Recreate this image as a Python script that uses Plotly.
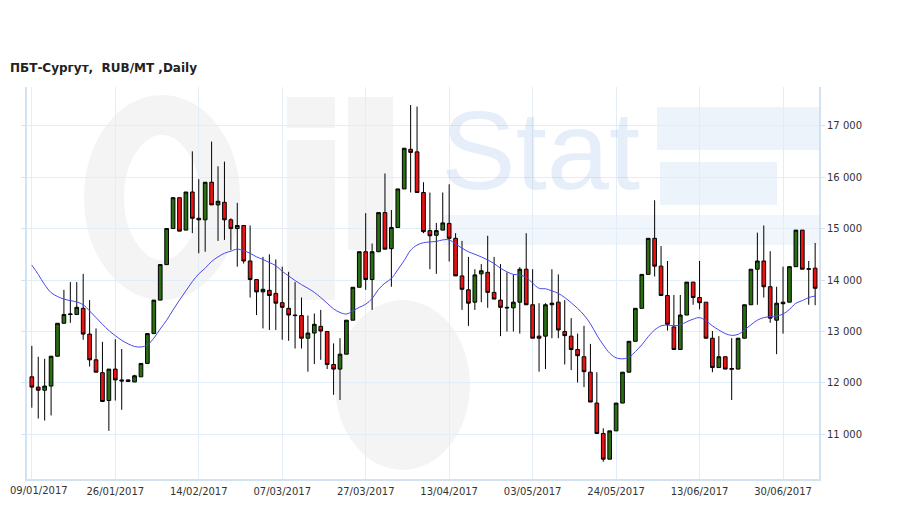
import pandas as pd
import plotly.graph_objects as go

# trading days 09/01/2017 .. 07/07/2017 (Russian holidays removed)
holidays = ["2017-02-23", "2017-02-24", "2017-03-08", "2017-05-01",
            "2017-05-08", "2017-05-09", "2017-06-12"]
days = pd.bdate_range("2017-01-09", "2017-07-07")
days = days[~days.isin(pd.to_datetime(holidays))]
dates = [d.strftime("%Y-%m-%d") for d in days]

opens = [12120, 11920, 11860, 11940, 12520, 13160, 13330, 13330, 13450, 12950,
         12450, 12200, 11660, 12270, 12060, 12060, 12020, 12120, 12380, 12960,
         13610, 14300, 15000, 15600, 14970, 15710, 15200, 15170, 15900, 15460,
         15510, 15170, 15000, 15060, 14370, 14010, 13770, 13800, 13740, 13560,
         13450, 13320, 13310, 12870, 12970, 13100, 13000, 12360, 12270, 12560,
         13220, 13860, 14550, 14010, 14550, 15310, 14610, 15020, 15770, 16540,
         16490, 15700, 14960, 14870, 14970, 15100, 14810, 14080, 13810, 13570,
         14120, 14150, 13760, 13610, 13470, 13460, 13570, 14210, 13520, 12910,
         12910, 13520, 13570, 13000, 12910, 12650, 12510, 12210, 11610, 11020,
         10520, 11070, 11610, 12210, 12810, 13450, 14110, 14810, 14270, 13700,
         13090, 12650, 13320, 13960, 13660, 13570, 12870, 12300, 12510, 12265,
         12270, 12870, 13520, 14210, 14370, 13870, 13220, 13570, 13570, 14260,
         14970, 14220, 14230]

highs = [12720, 12510, 12470, 12520, 13160, 13810, 13960, 13960, 14120, 13610,
         13060, 12800, 12270, 12850, 12660, 12070, 12160, 12380, 12960, 13610,
         14300, 15000, 15600, 15600, 15710, 16500, 15960, 15900, 16690, 16210,
         16300, 15200, 15500, 15060, 15060, 14010, 14450, 14500, 14400, 14260,
         14160, 13960, 13660, 13310, 13350, 13420, 13000, 12770, 12870, 13220,
         13860, 14550, 15300, 14710, 15310, 16070, 15360, 15770, 16560, 17400,
         17370, 15900, 15700, 15110, 15700, 15860, 14910, 14760, 14450, 14210,
         14310, 14860, 14450, 14310, 14150, 14110, 14250, 14910, 14210, 13550,
         13550, 14210, 14110, 13610, 13260, 12960, 13110, 12760, 12210, 11120,
         11070, 11610, 12210, 12810, 13450, 14110, 14810, 15550, 14660, 14370,
         13710, 13710, 13960, 13960, 14370, 13570, 13010, 12910, 12510, 12870,
         12870, 13520, 14210, 14920, 15060, 14560, 13870, 14260, 14260, 14970,
         14970, 14370, 14720]

lows = [11520, 11310, 11270, 11370, 12520, 13160, 13170, 13330, 12840, 12320,
        12210, 11640, 11070, 11660, 11480, 12020, 12020, 12120, 12380, 12960,
        13610, 14300, 15000, 14950, 14970, 14910, 14520, 14550, 15460, 14760,
        14780, 14580, 14260, 14320, 13660, 13320, 13060, 13030, 13030, 12840,
        12820, 12670, 12670, 12220, 12370, 12450, 12270, 11770, 11670, 12560,
        13220, 13860, 13810, 13420, 14550, 14600, 13870, 15020, 15770, 15700,
        15700, 14910, 14210, 14120, 14970, 14360, 14080, 13420, 13110, 13420,
        13570, 13460, 13630, 12910, 13000, 13000, 12960, 13520, 12870, 12220,
        12270, 12870, 12870, 12360, 12250, 12010, 11920, 11630, 11020, 10470,
        10520, 11070, 11610, 12210, 12810, 13450, 14110, 14070, 13700, 13020,
        12640, 12650, 13320, 13520, 13430, 12870, 12210, 12300, 12270, 11670,
        12270, 12870, 13520, 13520, 13660, 13170, 12560, 12960, 13570, 14260,
        14210, 13520, 13510]

closes = [11920, 11860, 11940, 12520, 13160, 13330, 13340, 13470, 12950, 12450,
          12210, 11640, 12270, 12060, 12040, 12030, 12140, 12380, 12960, 13610,
          14300, 15000, 15600, 14950, 15710, 15200, 15170, 15900, 15460, 15530,
          15170, 15000, 15060, 14370, 14010, 13770, 13820, 13700, 13550, 13470,
          13320, 13310, 12870, 12970, 13140, 13010, 12360, 12270, 12560, 13220,
          13860, 14550, 14010, 14550, 15310, 14600, 15020, 15770, 16560, 16480,
          15700, 14940, 14860, 14960, 15110, 14810, 14080, 13820, 13550, 14100,
          14180, 13760, 13630, 13470, 13460, 13570, 14210, 13520, 12870, 12870,
          13520, 13550, 13030, 12920, 12650, 12530, 12220, 11630, 11020, 10520,
          11070, 11610, 12210, 12810, 13450, 14110, 14810, 14270, 13700, 13140,
          12650, 13320, 13960, 13660, 13560, 12870, 12300, 12510, 12270, 12280,
          12870, 13520, 14210, 14370, 13870, 13260, 13550, 13540, 14260, 14970,
          14210, 14210, 13840]

moving_avg = [14290, 14110, 13910, 13755, 13680, 13630, 13600, 13575, 13520, 13400,
              13270, 13140, 13020, 12920, 12830, 12760, 12710, 12700, 12740, 12870,
              13050, 13220, 13420, 13610, 13790, 13970, 14120, 14230, 14360, 14450,
              14520, 14560, 14600, 14570, 14520, 14450, 14400, 14340, 14280, 14170,
              14080, 13990, 13910, 13840, 13760, 13660, 13550, 13440, 13370, 13340,
              13400, 13470, 13530, 13640, 13820, 13940, 14030, 14200, 14380, 14580,
              14680, 14725, 14740, 14750, 14780, 14780, 14700, 14620, 14550, 14500,
              14450, 14390, 14320, 14230, 14160, 14110, 14100, 14050, 13940, 13840,
              13830, 13790, 13740, 13660, 13560, 13450, 13320, 13150, 12930, 12740,
              12580, 12490, 12470, 12500, 12610, 12740, 12900, 13030, 13110, 13125,
              13110, 13130, 13190, 13240, 13270, 13210, 13110, 13030, 12960, 12925,
              12945, 13030, 13130, 13220, 13270, 13290, 13300, 13340, 13430, 13550,
              13600, 13660, 13690]

tick_dates = ["2017-01-09", "2017-01-26", "2017-02-14", "2017-03-07", "2017-03-27",
              "2017-04-13", "2017-05-03", "2017-05-24", "2017-06-13", "2017-06-30"]
tick_labels = ["09/01/2017", "26/01/2017", "14/02/2017", "07/03/2017", "27/03/2017",
               "13/04/2017", "03/05/2017", "24/05/2017", "13/06/2017", "30/06/2017"]
y_ticks = [11000, 12000, 13000, 14000, 15000, 16000, 17000]
y_labels = ["11 000", "12 000", "13 000", "14 000", "15 000", "16 000", "17 000"]

GREEN = "#2a6e12"
RED = "#ee1111"
GRID = "#e3edf7"
FRAME = "#d3e2f1"
GREY_WM = "rgba(0,0,0,0.045)"
BLUE_WM = "rgba(200,222,242,0.35)"

# the page body adds an 8px offset, so the figure is 8px smaller
W, H = 901, 501
ML, MR, MT, MB = 19, 90, 79, 30
PW, PH = W - ML - MR, H - MT - MB


def px(sx):
    # screen x (reference pixels) -> paper x
    return (sx - 8 - ML) / PW


def py(sy):
    # screen y (reference pixels) -> paper y
    return (H - MB - (sy - 8)) / PH


fig = go.Figure()

fig.add_trace(go.Candlestick(
    x=dates, open=opens, high=highs, low=lows, close=closes,
    increasing=dict(fillcolor=GREEN, line=dict(color="black", width=1)),
    decreasing=dict(fillcolor=RED, line=dict(color="black", width=1)),
    whiskerwidth=0,
    showlegend=False,
))

fig.add_trace(go.Scatter(
    x=dates, y=moving_avg, mode="lines",
    line=dict(color="#4848ee", width=1, shape="spline"),
    showlegend=False,
))


# faint "OilStat" logo watermark behind the data
def wm(kind, x0, x1, y0, y1, fill=None, line=None):
    s = dict(type=kind, xref="paper", yref="paper",
             x0=px(x0), x1=px(x1), y0=py(y1), y1=py(y0), layer="below")
    if fill:
        s["fillcolor"] = fill
    s["line"] = line if line else dict(width=0)
    return s


wm_shapes = [
    wm("circle", 104, 220, 115, 280, line=dict(color=GREY_WM, width=40)),
    wm("rect", 287, 335, 140, 300, fill=GREY_WM),
    wm("rect", 287, 335, 97, 128, fill=GREY_WM),
    wm("rect", 348, 393, 97, 250, fill=GREY_WM),
    wm("circle", 335, 470, 300, 470, fill=GREY_WM),
    wm("rect", 657, 820, 107, 150, fill=BLUE_WM),
    wm("rect", 660, 777, 162, 205, fill=BLUE_WM),
    wm("rect", 443, 820, 215, 245, fill="rgba(200,222,242,0.28)"),
]

# first date label would be clipped at the page edge, so it is placed by hand
axis_text = [""] + tick_labels[1:]

notes = [
    dict(text="Stat", x=px(540), y=py(150), xref="paper", yref="paper",
         showarrow=False, xanchor="center", yanchor="middle",
         font=dict(family="Liberation Sans", size=112, color="rgba(130,175,225,0.2)")),
    dict(text="<b>ПБТ-Сургут,  RUB/MT ,Daily</b>", x=px(8), y=py(68),
         xref="paper", yref="paper", showarrow=False, xanchor="left", yanchor="middle",
         font=dict(family="DejaVu Sans", size=12, color="#222222")),
    dict(text=tick_labels[0], x=px(8), y=py(491), xref="paper", yref="paper",
         showarrow=False, xanchor="left", yanchor="middle",
         font=dict(family="DejaVu Sans", size=10, color="#333333")),
]

fig.update_layout(
    width=W, height=H,
    margin=dict(l=ML, r=MR, t=MT, b=MB, autoexpand=False),
    paper_bgcolor="white", plot_bgcolor="white",
    font=dict(family="DejaVu Sans", size=10, color="#333333"),
    boxgap=0.18,
    shapes=wm_shapes,
    annotations=notes,
    hovermode="x",
)

fig.update_xaxes(
    type="category", automargin=False,
    range=[-0.75, 122.6],
    rangeslider=dict(visible=False),
    tickvals=tick_dates, ticktext=axis_text,
    showgrid=True, gridcolor=GRID, gridwidth=1,
    showline=True, linecolor=FRAME, linewidth=2, mirror=False,
    ticks="", ticklabelstandoff=2, tickfont=dict(size=10, color="#333333"),
)
fig.update_yaxes(
    side="right", automargin=False,
    range=[10135, 17750],
    tickvals=y_ticks, ticktext=y_labels,
    showgrid=True, gridcolor=GRID, gridwidth=1,
    showline=True, linecolor=FRAME, linewidth=2, mirror="ticks",
    ticks="outside", ticklen=4, tickcolor=FRAME,
    tickfont=dict(size=10, color="#333333"),
    zeroline=False,
)

fig.write_html("out.html")
